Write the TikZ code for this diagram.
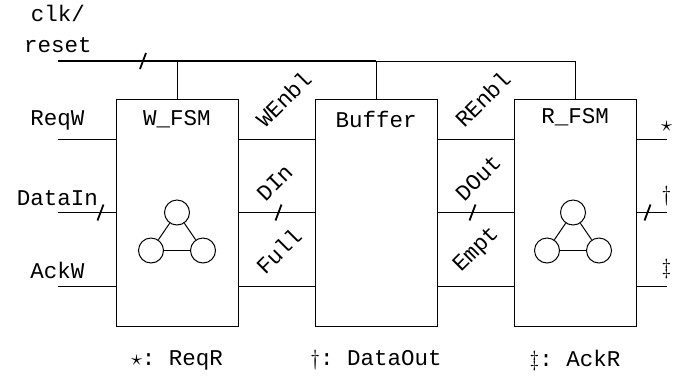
\documentclass[tikz,border=0pt]{standalone}
\usepackage{fontspec}
\setmonofont{Liberation Mono}
\usetikzlibrary{positioning, calc}
\definecolor{wireColor}{HTML}{000000}
\definecolor{textMain}{HTML}{000000}
\tikzset{
  fsmbox/.style={draw=wireColor, minimum width=61pt, minimum height=113.5pt,
    line width=0.5pt, inner sep=0pt},
  sigtext/.style={font=\ttfamily\fontsize{11.25}{15.5}\selectfont, text=textMain},
  rotlabel/.style={sigtext, rotate=45, anchor=south west},
  wire/.style={draw=wireColor, line width=0.5pt},
  buswire/.style={draw=wireColor, line width=1pt},
  widthmark/.style={draw=wireColor, line width=0.9pt},
  state/.style={circle, draw=wireColor, minimum size=12.5pt, inner sep=0pt, line width=0.5pt},
}

\begin{document}
\begin{tikzpicture}

  \useasboundingbox (0,0) rectangle (341.5pt,-188pt);

  % === Blocks ===
  \node[fsmbox] (wfsm) at (88.5pt,-106.25pt) {};
  \node[fsmbox, right=38pt of wfsm] (buf) {};
  \node[fsmbox, right=38pt of buf] (rfsm) {};

  \node[sigtext] (wtitle) at ([yshift=-10.5pt]wfsm.north) {W\_FSM};
  \node[sigtext] (btitle) at ([yshift=-10.5pt]buf.north) {Buffer};
  \node[sigtext] (rtitle) at ([yshift=-9.5pt]rfsm.north) {R\_FSM};

  % === clk/reset bus ===
  \coordinate (busL) at (29pt,-30.5pt);
  \node[sigtext, align=center, above=0.5pt of busL] (clkrst) {clk/\\reset};
  \draw[buswire] (busL) -- (buf.north |- busL);
  \draw[wire] (buf.north |- busL) -- (rfsm.north |- busL);
  \draw[wire] (wfsm.north |- busL) -- (wfsm.north);
  \draw[wire] (buf.north |- busL) -- (buf.north);
  \draw[wire] (rfsm.north |- busL) -- (rfsm.north);
  \coordinate (busMark) at ([xshift=42.5pt]busL);
  \draw[widthmark] ([xshift=-1.5pt,yshift=-4pt]busMark) -- ([xshift=1.5pt,yshift=4pt]busMark);

  % === Inputs of W_FSM ===
  \coordinate (reqw) at ([xshift=-29pt,yshift=36.75pt]wfsm.west);
  \coordinate (datain) at ([xshift=-29pt]wfsm.west);
  \coordinate (ackw) at ([xshift=-29pt,yshift=-36.75pt]wfsm.west);
  \draw[wire] (reqw) -- (reqw -| wfsm.west);
  \draw[wire] (datain) -- (wfsm.west);
  \draw[wire] (ackw) -- (ackw -| wfsm.west);
  \node[sigtext, above=1pt of reqw] (reqwlbl) {ReqW};
  \node[sigtext, above=0pt of datain] (datainlbl) {DataIn};
  \node[sigtext, above=0pt of ackw] (ackwlbl) {AckW};
  \coordinate (dinMark) at ([xshift=-7.5pt]wfsm.west);
  \draw[widthmark] ([xshift=-1.5pt,yshift=-4pt]dinMark) -- ([xshift=1.5pt,yshift=4pt]dinMark);

  % === W_FSM -> Buffer ===
  \draw[wire] ([yshift=36.75pt]wfsm.east) -- ([yshift=36.75pt]buf.west);
  \draw[wire] (wfsm.east) -- (buf.west);
  \draw[wire] ([yshift=-36.75pt]wfsm.east) -- ([yshift=-36.75pt]buf.west);
  \node[rotlabel] (wenbl) at ([xshift=13.5pt,yshift=36.75pt]wfsm.east) {WEnbl};
  \node[rotlabel] (din) at ([xshift=13.5pt]wfsm.east) {DIn};
  \node[rotlabel] (full) at ([xshift=13.5pt,yshift=-36.75pt]wfsm.east) {Full};
  \coordinate (dMark) at ([xshift=20pt]wfsm.east);
  \draw[widthmark] ([xshift=-1.5pt,yshift=-4pt]dMark) -- ([xshift=1.5pt,yshift=4pt]dMark);

  % === Buffer -> R_FSM ===
  \draw[wire] ([yshift=36.75pt]buf.east) -- ([yshift=36.75pt]rfsm.west);
  \draw[wire] (buf.east) -- (rfsm.west);
  \draw[wire] ([yshift=-36.75pt]buf.east) -- ([yshift=-36.75pt]rfsm.west);
  \node[rotlabel] (renbl) at ([xshift=13.5pt,yshift=36.75pt]buf.east) {REnbl};
  \node[rotlabel] (dout) at ([xshift=13.5pt]buf.east) {DOut};
  \node[rotlabel] (empt) at ([xshift=13.5pt,yshift=-36.75pt]buf.east) {Empt};
  \coordinate (oMark) at ([xshift=17.5pt]buf.east);
  \draw[widthmark] ([xshift=-1.5pt,yshift=-4pt]oMark) -- ([xshift=1.5pt,yshift=4pt]oMark);

  % === Outputs of R_FSM ===
  \coordinate (reqr) at ([xshift=15pt,yshift=36.75pt]rfsm.east);
  \coordinate (dataout) at ([xshift=15pt]rfsm.east);
  \coordinate (ackr) at ([xshift=15pt,yshift=-36.75pt]rfsm.east);
  \draw[wire] (reqr -| rfsm.east) -- (reqr);
  \draw[wire] (rfsm.east) -- (dataout);
  \draw[wire] (ackr -| rfsm.east) -- (ackr);
  \node[sigtext, above=0pt of reqr] (reqrsym) {$\star$};
  \node[sigtext, above=0pt of dataout] (dataoutsym) {$\dagger$};
  \node[sigtext, above=0pt of ackr] (ackrsym) {$\ddagger$};
  \coordinate (rMark) at ([xshift=5.5pt]rfsm.east);
  \draw[widthmark] ([xshift=-1.5pt,yshift=-4pt]rMark) -- ([xshift=1.5pt,yshift=4pt]rMark);

  % === State graphs ===
  \node[state] (wsA) at (wfsm.center) {};
  \node[state] (wsB) at ([xshift=-13pt,yshift=-19pt]wfsm.center) {};
  \node[state] (wsC) at ([xshift=13pt,yshift=-19pt]wfsm.center) {};
  \draw[wire] (wsA) -- (wsB);
  \draw[wire] (wsA) -- (wsC);
  \draw[wire] (wsB) -- (wsC);
  \node[state] (rsA) at ([xshift=-1pt]rfsm.center) {};
  \node[state] (rsB) at ([xshift=-14pt,yshift=-19pt]rfsm.center) {};
  \node[state] (rsC) at ([xshift=12pt,yshift=-19pt]rfsm.center) {};
  \draw[wire] (rsA) -- (rsB);
  \draw[wire] (rsA) -- (rsC);
  \draw[wire] (rsB) -- (rsC);

  % === Legend ===
  \node[sigtext] (legA) at ([yshift=-17pt]wfsm.south) {$\star$: ReqR};
  \node[sigtext] (legB) at ([yshift=-17pt]buf.south) {$\dagger$: DataOut};
  \node[sigtext] (legC) at ([yshift=-17pt]rfsm.south) {$\ddagger$: AckR};

\end{tikzpicture}
\end{document}
